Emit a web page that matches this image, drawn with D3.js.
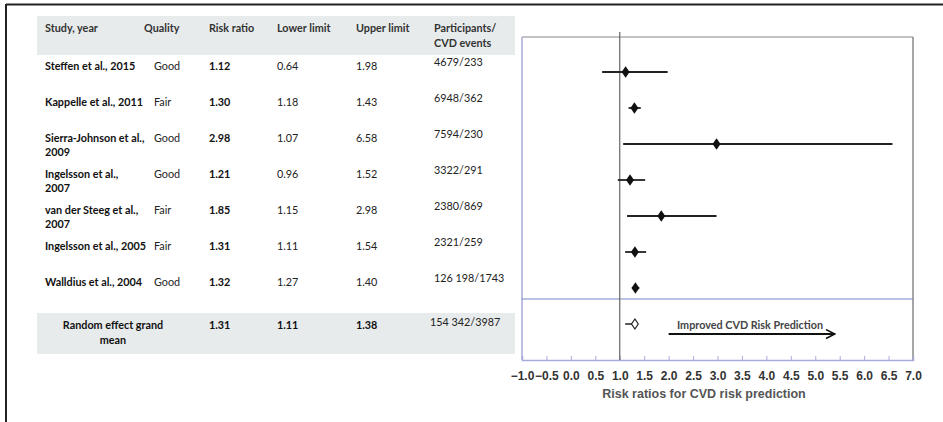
<!doctype html>
<html>
<head>
  <meta charset="utf-8" />
  <title>Risk ratios for CVD risk prediction</title>
  <script src="https://d3js.org/d3.v7.min.js"></script>
  <style>
    body { margin: 0; background: #fff; }
    svg text { font-family: Lato, "Open Sans", sans-serif; }
    svg .axis text, svg text.axis-title { font-family: Arial, "Liberation Sans", sans-serif; }
  </style>
</head>
<body>
  <svg></svg>
  <script>
    var width = 943,
      height = 422;

    var studies = ["Steffen et al., 2015", "Kappelle et al., 2011", "Sierra-Johnson et al., 2009",
      "Ingelsson et al., 2007", "van der Steeg et al., 2007", "Ingelsson et al., 2005", "Walldius et al., 2004"];
    // line breaks as in the table
    var studyLines = [["Steffen et al., 2015"], ["Kappelle et al., 2011"], ["Sierra-Johnson et al.,", "2009"],
      ["Ingelsson et al.,", "2007"], ["van der Steeg et al.,", "2007"], ["Ingelsson et al., 2005"], ["Walldius et al., 2004"]];
    var quality = ["Good", "Fair", "Good", "Good", "Fair", "Fair", "Good"];
    var riskRatio = [1.12, 1.30, 2.98, 1.21, 1.85, 1.31, 1.32];
    var lowerLimit = [0.64, 1.18, 1.07, 0.96, 1.15, 1.11, 1.27];
    var upperLimit = [1.98, 1.43, 6.58, 1.52, 2.98, 1.54, 1.40];
    var participants = ["4679/233", "6948/362", "7594/230", "3322/291", "2380/869", "2321/259", "126 198/1743"];

    var pooled = { label: ["Random effect grand", "mean"], rr: 1.31, lower: 1.11, upper: 1.38, participants: "154 342/3987" };

    var headers = ["Study, year", "Quality", "Risk ratio", "Lower limit", "Upper limit", ["Participants/", "CVD events"]];
    var xTicks = d3.range(-1, 7.01, 0.5);

    var svg = d3.select("svg").attr("width", width).attr("height", height);

    // outer frame (top and left only)
    svg.append("line").attr("x1", 6).attr("x2", width).attr("y1", 4.5).attr("y2", 4.5)
      .attr("stroke", "#222").attr("stroke-width", 2);
    svg.append("line").attr("x1", 6).attr("x2", 6).attr("y1", 4).attr("y2", height)
      .attr("stroke", "#222").attr("stroke-width", 2);

    // ---- table ----
    var colX = [45, 144, 209, 277, 356, 434];
    var rowY = d3.scaleBand().domain(d3.range(studies.length)).range([54, 306]);

    svg.append("rect").attr("x", 37).attr("y", 16).attr("width", 478).attr("height", 39).attr("fill", "#e8ebec");
    svg.append("rect").attr("x", 37).attr("y", 313).attr("width", 478).attr("height", 41).attr("fill", "#e8ebec");

    headers.forEach(function(h, i) {
      var t = svg.append("text").attr("x", colX[i]).attr("y", 32)
        .attr("font-size", 10.8).attr("font-weight", "bold").attr("fill", "#333");
      if (Array.isArray(h)) {
        h.forEach(function(s, j) {
          t.append("tspan").attr("x", colX[i]).attr("dy", j ? 15 : 0).text(s);
        });
      } else {
        t.text(h);
      }
    });

    var rows = svg.selectAll(".row").data(studies).enter().append("g").attr("class", "row");

    rows.append("text")
      .attr("y", function(d, i) { return rowY(i) + 16; })
      .attr("font-size", 10.8).attr("font-weight", "bold").attr("fill", "#111")
      .each(function(d, i) {
        var t = d3.select(this);
        studyLines[i].forEach(function(s, j) {
          t.append("tspan").attr("x", colX[0]).attr("dy", j ? 14 : 0).text(s);
        });
      });
    rows.append("text").attr("x", 154)
      .attr("y", function(d, i) { return rowY(i) + 16; })
      .attr("font-size", 10.8).attr("fill", "#222").text(function(d, i) { return quality[i]; });
    rows.append("text").attr("x", colX[2]).attr("y", function(d, i) { return rowY(i) + 16; })
      .attr("font-size", 10.8).attr("font-weight", "bold").attr("fill", "#111")
      .text(function(d, i) { return riskRatio[i].toFixed(2); });
    rows.append("text").attr("x", colX[3]).attr("y", function(d, i) { return rowY(i) + 16; })
      .attr("font-size", 10.8).attr("fill", "#222")
      .text(function(d, i) { return lowerLimit[i].toFixed(2); });
    rows.append("text").attr("x", colX[4]).attr("y", function(d, i) { return rowY(i) + 16; })
      .attr("font-size", 10.8).attr("fill", "#222")
      .text(function(d, i) { return upperLimit[i].toFixed(2); });
    rows.append("text").attr("x", colX[5]).attr("y", function(d, i) { return rowY(i) + 12; })
      .attr("font-size", 10.8).attr("fill", "#222")
      .text(function(d, i) { return participants[i]; });

    // pooled row
    var pt = svg.append("text").attr("x", 113).attr("y", 329).attr("text-anchor", "middle")
      .attr("font-size", 10.8).attr("font-weight", "bold").attr("fill", "#111");
    pooled.label.forEach(function(s, j) {
      pt.append("tspan").attr("x", 113).attr("dy", j ? 15 : 0).text(s);
    });
    [pooled.rr, pooled.lower, pooled.upper].forEach(function(v, i) {
      svg.append("text").attr("x", colX[2 + i]).attr("y", 329)
        .attr("font-size", 10.8).attr("font-weight", "bold").attr("fill", "#111").text(v.toFixed(2));
    });
    svg.append("text").attr("x", 430).attr("y", 326).attr("font-size", 10.8).attr("fill", "#222")
      .text(pooled.participants);

    // ---- forest plot ----
    var plotLeft = 522, plotRight = 913, plotTop = 37, plotBottom = 360, sepY = 299;
    var x = d3.scaleLinear().domain([-1, 7]).range([plotLeft, plotRight]);
    var y = d3.scaleBand().domain(d3.range(studies.length)).range([54, 306]);

    svg.append("line").attr("x1", plotLeft).attr("x2", plotRight).attr("y1", plotTop).attr("y2", plotTop)
      .attr("stroke", "#888").attr("stroke-width", 1.2);
    svg.append("line").attr("x1", plotRight).attr("x2", plotRight).attr("y1", plotTop).attr("y2", plotBottom)
      .attr("stroke", "#888").attr("stroke-width", 1.5);
    svg.append("line").attr("x1", plotLeft).attr("x2", plotLeft).attr("y1", plotTop).attr("y2", plotBottom)
      .attr("stroke", "#a8a8d8").attr("stroke-width", 1.5);
    svg.append("line").attr("x1", plotLeft).attr("x2", plotRight).attr("y1", sepY).attr("y2", sepY)
      .attr("stroke", "#7b85c8").attr("stroke-width", 1.2);

    // x axis
    var axis = svg.append("g").attr("class", "axis").attr("transform", "translate(0," + plotBottom + ")")
      .call(d3.axisBottom(x).tickValues(xTicks).tickSize(-4).tickPadding(11)
        .tickFormat(function(d) { return d < 0 ? "\u2212" + Math.abs(d).toFixed(1) : d.toFixed(1); }));
    axis.select(".domain").attr("stroke", "#a8acdc").attr("stroke-width", 1.5);
    axis.selectAll(".tick line").attr("stroke", "#a8acdc");
    axis.selectAll(".tick text").attr("font-size", 12).attr("font-weight", "bold").attr("fill", "#333");

    svg.append("text").attr("class", "axis-title").attr("x", 704).attr("y", 398).attr("text-anchor", "middle")
      .attr("font-size", 12.5).attr("font-weight", "bold").attr("fill", "#555")
      .text("Risk ratios for CVD risk prediction");

    // reference line at 1
    svg.append("line").attr("x1", x(1)).attr("x2", x(1)).attr("y1", 32).attr("y2", plotBottom)
      .attr("stroke", "#666").attr("stroke-width", 1.2);

    var diamond = d3.symbol().type(d3.symbolDiamond).size(38);
    var markY = function(i) { return y(i) + y.bandwidth() / 2; };

    var marks = svg.selectAll(".mark").data(studies).enter().append("g").attr("class", "mark");
    marks.append("line")
      .attr("x1", function(d, i) { return x(lowerLimit[i]); })
      .attr("x2", function(d, i) { return x(upperLimit[i]); })
      .attr("y1", function(d, i) { return markY(i); })
      .attr("y2", function(d, i) { return markY(i); })
      .attr("stroke", "#222").attr("stroke-width", 1.8);
    marks.append("path").attr("d", diamond)
      .attr("transform", function(d, i) { return "translate(" + x(riskRatio[i]) + "," + markY(i) + ") scale(1.2,1)"; })
      .attr("fill", "#111");

    var pY = 324;
    svg.append("line").attr("x1", x(pooled.lower)).attr("x2", x(pooled.rr)).attr("y1", pY).attr("y2", pY)
      .attr("stroke", "#222").attr("stroke-width", 1.5);
    svg.append("path").attr("d", d3.symbol().type(d3.symbolDiamond).size(28))
      .attr("transform", "translate(" + x(pooled.rr) + "," + pY + ") scale(1.2,1)")
      .attr("fill", "#fff").attr("stroke", "#222").attr("stroke-width", 1);

    // annotation arrow
    svg.append("defs").append("marker").attr("id", "arrow").attr("viewBox", "0 0 10 10")
      .attr("refX", 9).attr("refY", 5).attr("markerWidth", 5).attr("markerHeight", 5)
      .attr("orient", "auto").attr("markerUnits", "strokeWidth")
      .append("path").attr("d", "M1,1 L9,5 L1,9").attr("fill", "none").attr("stroke", "#111").attr("stroke-width", 1.5);
    svg.append("line").attr("x1", x(2)).attr("x2", x(5.4)).attr("y1", 334).attr("y2", 334)
      .attr("stroke", "#111").attr("stroke-width", 2.2).attr("marker-end", "url(#arrow)");
    svg.append("text").attr("x", 677).attr("y", 329).attr("font-size", 10.8).attr("font-weight", "bold")
      .attr("fill", "#444").text("Improved CVD Risk Prediction");
  </script>
</body>
</html>
